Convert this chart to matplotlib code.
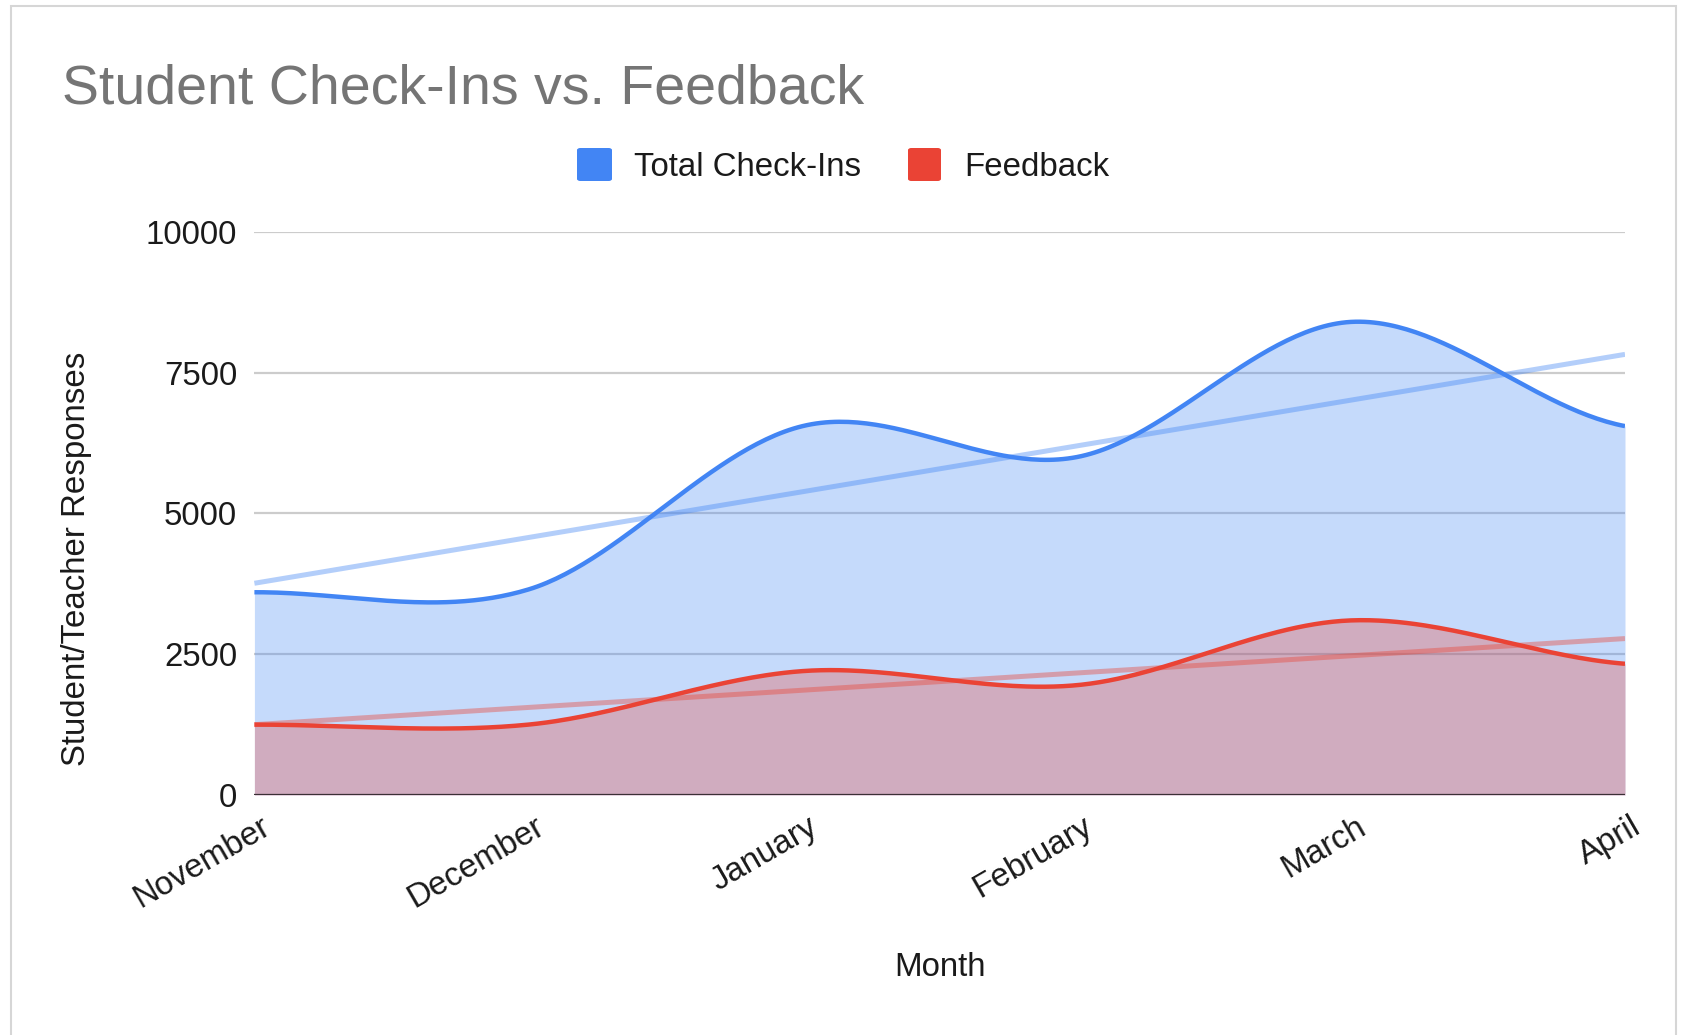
import numpy as np
import matplotlib
matplotlib.use("Agg")
import matplotlib.pyplot as plt
from matplotlib.patches import Rectangle, FancyBboxPatch
from matplotlib.transforms import ScaledTranslation

plt.rcParams['font.family'] = ['Liberation Sans', 'DejaVu Sans']

# ---- data ----
months = ["November", "December", "January", "February", "March", "April"]
total_checkins = [3600, 3650, 6550, 6000, 8400, 6550]
feedback = [1250, 1250, 2200, 1950, 3100, 2330]
y_ticks = [0, 2500, 5000, 7500, 10000]

title = "Student Check-Ins vs. Feedback"
series_names = ["Total Check-Ins", "Feedback"]
BLUE = "#4285F4"
RED = "#EA4335"
TXT = "#1a1a1a"
FS = 23.8

W, H = 1683, 1035
DPI = 100
fig = plt.figure(figsize=(W / DPI, H / DPI), dpi=DPI)
fig.patch.set_facecolor("white")


def px(x, y):
    return x / W, 1 - y / H


def smooth(vals, n=60):
    """Cardinal (Catmull-Rom) curve through the data points for drawing."""
    p = np.asarray(vals, float)
    k = len(p)
    m = np.zeros(k)
    m[1:-1] = (p[2:] - p[:-2]) / 2
    m[0] = (p[1] - p[0]) / 2
    m[-1] = (p[-1] - p[-2]) / 2
    xs, ys = [], []
    for i in range(k - 1):
        t = np.linspace(0, 1, n, endpoint=(i == k - 2))
        h00 = 2 * t**3 - 3 * t**2 + 1
        h10 = t**3 - 2 * t**2 + t
        h01 = -2 * t**3 + 3 * t**2
        h11 = t**3 - t**2
        xs.append(i + t)
        ys.append(h00 * p[i] + h10 * m[i] + h01 * p[i + 1] + h11 * m[i + 1])
    return np.concatenate(xs), np.concatenate(ys)


# axes placement (pixels)
L, R, T, B = 254.4, 1625, 231.8, 795
ax = fig.add_axes([L / W, 1 - B / H, (R - L) / W, (B - T) / H])
ax.set_facecolor("none")

x = np.arange(len(months))
for vals, col, z in [(total_checkins, BLUE, 2), (feedback, RED, 3)]:
    sx, sy = smooth(vals)
    ax.fill_between(sx, 0, sy, color=col, alpha=0.3, lw=0, zorder=z)

# trendlines (linear fit)
for vals, col in [(total_checkins, BLUE), (feedback, RED)]:
    c = np.polyfit(x, vals, 1)
    ax.plot(x, np.polyval(c, x), color=col, alpha=0.4, lw=3.6,
            solid_capstyle='butt', zorder=5)

for vals, col in [(total_checkins, BLUE), (feedback, RED)]:
    sx, sy = smooth(vals)
    ax.plot(sx, sy, color=col, lw=3.2, zorder=6, solid_capstyle='butt')

ax.axhline(0, color="#3a3035", lw=1.6, zorder=7)

ax.set_xlim(0, len(months) - 1)
ax.set_ylim(0, 10000)
ax.set_yticks(y_ticks)
ax.set_yticklabels([str(v) for v in y_ticks])
ax.yaxis.grid(True, color="#cccccc", lw=1.6, zorder=0)
ax.set_axisbelow(True)
for s in ax.spines.values():
    s.set_visible(False)

ax.tick_params(axis='y', length=0, pad=12.5, labelsize=FS, labelcolor=TXT)
ax.set_xticks(x)
ax.set_xticklabels(months)
ax.tick_params(axis='x', length=0, pad=21.5, labelsize=FS, labelcolor=TXT)
off = ScaledTranslation(13 / DPI, 0, fig.dpi_scale_trans)
for lab in ax.get_xticklabels():
    lab.set_rotation(30)
    lab.set_ha('right')
    lab.set_va('center')
    lab.set_rotation_mode('anchor')
    lab.set_transform(lab.get_transform() + off)

# axis titles
fig.text(*px(940, 967), "Month", ha='center', va='center', fontsize=FS, color=TXT)
fig.text(*px(77, 559), "Student/Teacher Responses", ha='center', va='center',
         rotation=90, fontsize=FS, color=TXT)

# title
fig.text(*px(62, 104), title, ha='left', va='baseline', fontsize=40, color="#757575")

# legend
for (x0, x1), tx, name, col in [((577, 612), 634, series_names[0], BLUE),
                                ((908, 941), 964, series_names[1], RED)]:
    fx0, fy0 = px(x0, 181)
    fx1, fy1 = px(x1, 148)
    fig.patches.append(FancyBboxPatch((fx0, fy0), fx1 - fx0, fy1 - fy0,
                                      boxstyle="round,pad=0,rounding_size=0.002",
                                      transform=fig.transFigure, facecolor=col,
                                      edgecolor='none'))
    fig.text(*px(tx, 176), name, ha='left', va='baseline', fontsize=FS, color=TXT)

# card border
bx0, by0 = px(11, 1040)
bx1, by1 = px(1676, 6)
fig.patches.append(Rectangle((bx0, by0), bx1 - bx0, by1 - by0, transform=fig.transFigure,
                             facecolor='none', edgecolor='#d6d6d6', lw=1.5))

fig.savefig("out.png", dpi=DPI, facecolor="white")
